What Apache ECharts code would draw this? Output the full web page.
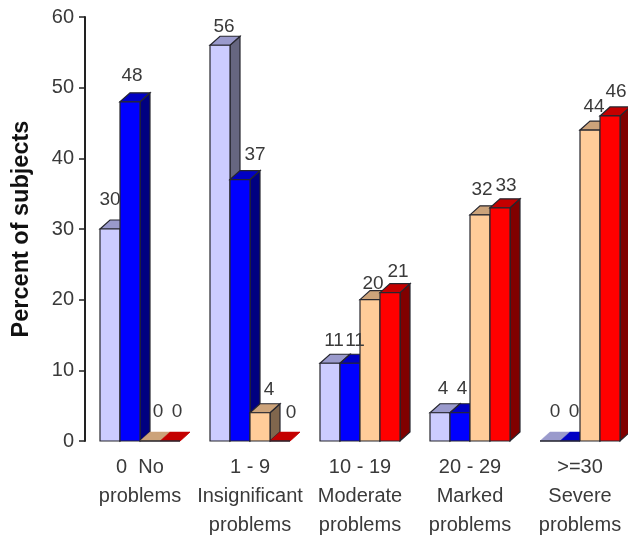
<!DOCTYPE html>
<html>
<head>
<meta charset="utf-8">
<style>html,body{margin:0;padding:0;background:#fff;overflow:hidden}#c{width:628px;height:536px}</style>
<script src="https://cdn.jsdelivr.net/npm/echarts@6/dist/echarts.min.js"></script>
</head>
<body>
<div id="c"></div>
<script>
const categories = ['0  No\nproblems', '1 - 9\nInsignificant\nproblems', '10 - 19\nModerate\nproblems', '20 - 29\nMarked\nproblems', '>=30\nSevere\nproblems'];
const lightBlueValues = [30, 56, 11, 4, 0];
const blueValues = [48, 37, 11, 4, 0];
const peachValues = [0, 4, 20, 32, 44];
const redValues = [0, 0, 21, 33, 46];
const yTicks = { min: 0, max: 60, interval: 10 };
const yTitle = 'Percent of subjects';

// Per-label hand placement relative to the bar's centre and top, as in the reference.
const labelShiftX = [[0, 4, 4, 3, 5], [2, 15, 5, 2, 4], [8, 9, 3, 2, 4], [7, 11, 8, 6, 6]];
const labelShiftY = [[-29, -19, -23, -24, -29], [-26, -25, -23, -24, -29], [-29, -23, -16, -25, -23], [-29, -28, -21, -22, -24]];

const palette = [
  { front: '#CCCCFF', top: '#9A9ACC', side: '#666680' },
  { front: '#0000FF', top: '#0000C4', side: '#000080' },
  { front: '#FFCC99', top: '#CCA37A', side: '#80664D' },
  { front: '#FF0000', top: '#C40000', side: '#800000' }
];
const edge = '#26262e';
const textColor = '#3a3a3a';
const fontFamily = '"Liberation Sans", Arial, sans-serif';

function makeSeries(name, values, idx) {
  const c = palette[idx];
  return {
    name, type: 'custom', clip: false,
    data: values.map((v, i) => [i, v]),
    encode: { x: 0, y: 1 },
    renderItem(params, api) {
      const i = api.value(0), v = api.value(1);
      const top = api.coord([i, v]), base = api.coord([i, 0]);
      const band = api.size([1, 0])[0];
      const w = band * 2 / 11, dx = w / 2, dy = w * 0.45;
      const cx = top[0] + (idx - 1.5) * w;
      const l = cx - w / 2, r = cx + w / 2, t = top[1], b = base[1];
      const stroke = v > 0 ? { stroke: edge, lineWidth: 1.2 } : { stroke: c.top, lineWidth: 0.5 };
      const children = [
        { type: 'polygon', shape: { points: [[r, t], [r + dx, t - dy], [r + dx, b - dy], [r, b]] }, style: { fill: c.side, ...stroke } },
        { type: 'polygon', shape: { points: [[l, t], [l + dx, t - dy], [r + dx, t - dy], [r, t]] }, style: { fill: c.top, ...stroke } }
      ];
      if (v > 0) {
        children.push({ type: 'rect', shape: { x: l, y: t, width: w, height: b - t }, style: { fill: c.front, ...stroke } });
      } else {
        children.push({ type: 'line', shape: { x1: l, y1: b, x2: r, y2: b }, style: { stroke: edge, lineWidth: 1.5 } });
      }
      children.push({
        type: 'text',
        z2: 100,
        style: {
          text: String(v),
          x: cx + labelShiftX[idx][i],
          y: t + labelShiftY[idx][i],
          align: 'center', verticalAlign: 'middle',
          fill: textColor, font: '19px ' + fontFamily
        }
      });
      return { type: 'group', children };
    }
  };
}

const chart = echarts.init(document.getElementById('c'), null, { renderer: 'canvas' });
chart.setOption({
  animation: false,
  backgroundColor: '#ffffff',
  grid: { left: 85, top: 17, width: 550, height: 424, containLabel: false, outerBoundsMode: 'none' },
  xAxis: {
    type: 'category', data: categories,
    axisLine: { show: false }, axisTick: { show: false },
    axisLabel: { interval: 0, margin: 12, color: textColor, fontSize: 20, lineHeight: 29, fontFamily, hideOverlap: false }
  },
  yAxis: {
    type: 'value', min: yTicks.min, max: yTicks.max, interval: yTicks.interval,
    name: yTitle, nameLocation: 'middle', nameGap: 51, nameRotate: 90,
    nameTextStyle: { color: '#111', fontSize: 23.5, fontWeight: 'bold', fontFamily },
    splitLine: { show: false },
    axisLine: { show: true, lineStyle: { color: '#222', width: 2 } },
    axisTick: { show: true, length: 6, lineStyle: { color: '#222', width: 1.5 } },
    axisLabel: { color: textColor, fontSize: 20, margin: 11, padding: [4, 0, 0, 0], fontFamily }
  },
  series: [
    makeSeries('Light blue', lightBlueValues, 0),
    makeSeries('Blue', blueValues, 1),
    makeSeries('Peach', peachValues, 2),
    makeSeries('Red', redValues, 3)
  ]
});
</script>
</body>
</html>
